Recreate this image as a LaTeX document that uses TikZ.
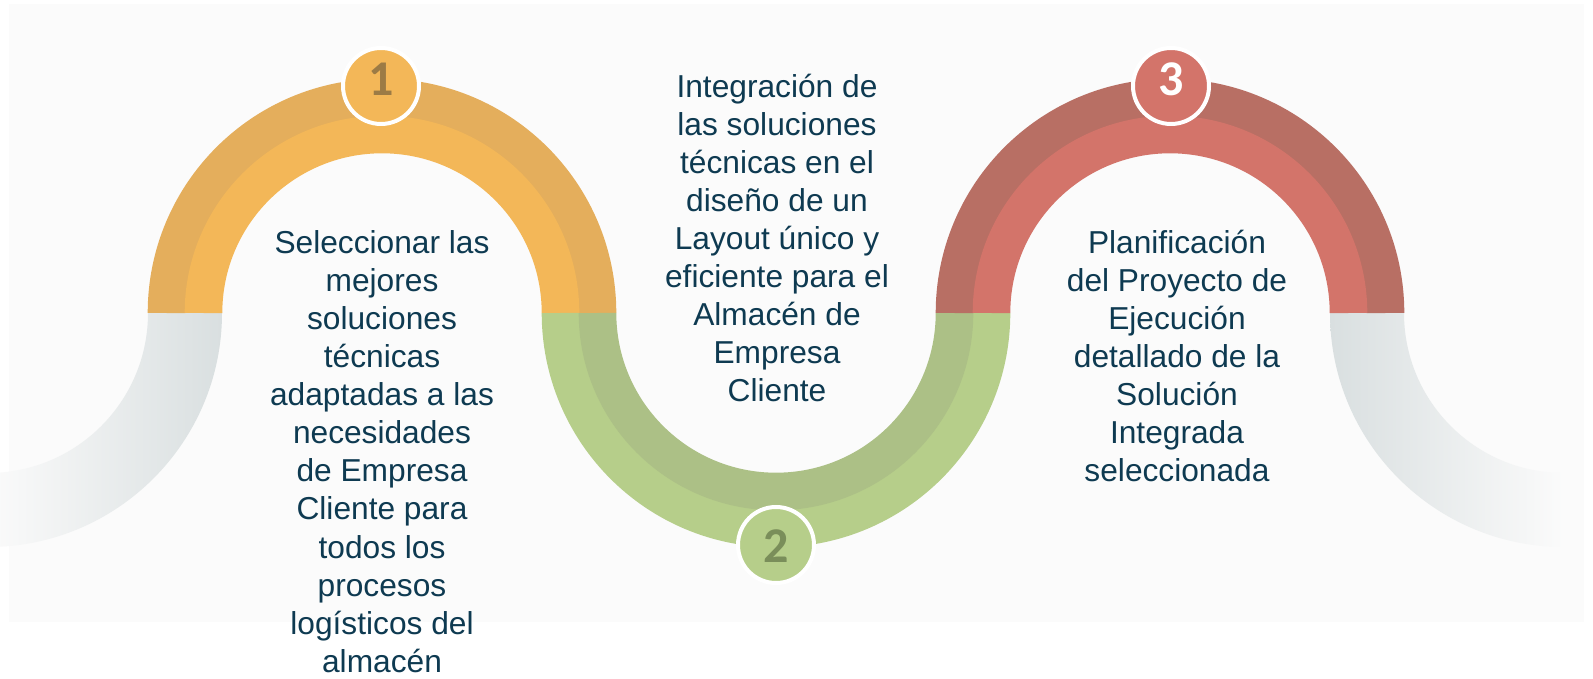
\documentclass[tikz,border=0pt]{standalone}
\usepackage{fontspec}
\setmainfont{Liberation Sans}
\newfontfamily\numfont{Carlito}
\definecolor{odark}{HTML}{E4AE5C}
\definecolor{olight}{HTML}{F3B758}
\definecolor{gdark}{HTML}{ACC086}
\definecolor{glight}{HTML}{B6CE8A}
\definecolor{rdark}{HTML}{B86F64}
\definecolor{rlight}{HTML}{D3746A}
\definecolor{graycol}{HTML}{D9DFE0}
\definecolor{bgcol}{HTML}{FBFBFB}
\definecolor{txtcol}{HTML}{0E3A51}
\definecolor{num1}{HTML}{9C7B45}
\definecolor{num2}{HTML}{7A8E5A}
\tikzset{
  band/.style={line width=37.6pt, line cap=butt},
  numcircle/.style={circle, minimum size=76pt, inner sep=0pt, draw=white, line width=4pt},
  numtext/.style={font=\numfont\bfseries\fontsize{50}{50}\selectfont, inner sep=0pt},
  bodytext/.style={align=center, anchor=north, inner sep=0pt, text=txtcol,
    font=\fontsize{31.7}{38.1}\selectfont}
}
\begin{document}
\begin{tikzpicture}[x=1pt,y=1pt]
\useasboundingbox (0,0) rectangle (1593,678);
\fill[white] (0,0) rectangle (1593,678);
\fill[bgcol] (9,56) rectangle (1584,674);
\coordinate (c0) at (-12,365);
\coordinate (c1) at (382,365);
\coordinate (c2) at (776,365);
\coordinate (c3) at (1170,365);
\coordinate (c4) at (1564,365);
% gray tails
\shade[left color=bgcol, middle color=graycol!60!bgcol, right color=graycol]
  (c0) ++(0:234pt) arc[start angle=0,end angle=-90,radius=234pt]
  -- ++(0,74pt) arc[start angle=-90,end angle=0,radius=160pt] -- cycle;
\shade[left color=graycol, middle color=graycol!60!bgcol, right color=bgcol]
  (c4) ++(180:234pt) arc[start angle=180,end angle=270,radius=234pt]
  -- ++(0,74pt) arc[start angle=270,end angle=180,radius=160pt] -- cycle;
% arc 1
\draw[band, odark] (c1) ++(0:215.5pt) arc[start angle=0,end angle=180,radius=215.5pt];
\draw[band, olight] (c1) ++(0:178.5pt) arc[start angle=0,end angle=180,radius=178.5pt];
% arc 2
\draw[band, glight] (c2) ++(180:215.5pt) arc[start angle=180,end angle=360,radius=215.5pt];
\draw[band, gdark] (c2) ++(180:178.5pt) arc[start angle=180,end angle=360,radius=178.5pt];
% arc 3
\draw[band, rdark] (c3) ++(0:215.5pt) arc[start angle=0,end angle=180,radius=215.5pt];
\draw[band, rlight] (c3) ++(0:178.5pt) arc[start angle=0,end angle=180,radius=178.5pt];
% number circles
\node[numcircle, fill=olight] (n1) at (381,592) {};
\node[numtext, text=num1] (d1) at (381,599) {1};
\node[numcircle, fill=glight] (n2) at (776,133) {};
\node[numtext, text=num2] (d2) at (776,132) {2};
\node[numcircle, fill=rlight] (n3) at (1171,592) {};
\node[numtext, text=white] (d3) at (1171,599) {3};
% texts
\node[bodytext] (t1) at (382,455) {\rule{0pt}{30pt}Seleccionar las\\mejores\\soluciones\\técnicas\\adaptadas a las\\necesidades\\de Empresa\\Cliente para\\todos los\\procesos\\logísticos del\\almacén};
\node[bodytext] (t2) at (777,611) {\rule{0pt}{30pt}Integración de\\las soluciones\\técnicas en el\\diseño de un\\Layout único y\\eficiente para el\\Almacén de\\Empresa\\Cliente};
\node[bodytext] (t3) at (1177,455) {\rule{0pt}{30pt}Planificación\\del Proyecto de\\Ejecución\\detallado de la\\Solución\\Integrada\\seleccionada};
\end{tikzpicture}
\end{document}
